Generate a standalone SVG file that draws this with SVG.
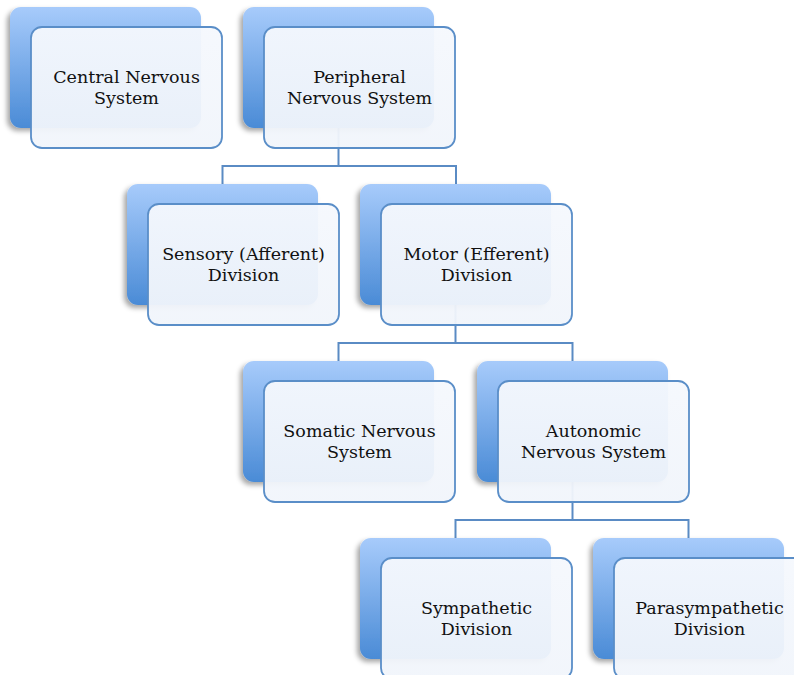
<svg xmlns="http://www.w3.org/2000/svg" width="794" height="675" viewBox="0 0 794 675">
  <defs>
    <linearGradient id="backGrad" x1="0" y1="0" x2="0" y2="1">
      <stop offset="0" stop-color="#A7CBFB"/>
      <stop offset="1" stop-color="#4A8BD6"/>
    </linearGradient>
    <linearGradient id="frontGrad" x1="0" y1="0" x2="0" y2="1">
      <stop offset="0" stop-color="#F5F8FD"/>
      <stop offset="1" stop-color="#F1F5FB"/>
    </linearGradient>
    <filter id="shadow" x="-10%" y="-10%" width="120%" height="125%">
      <feDropShadow dx="-3" dy="3" stdDeviation="2.5" flood-color="#000" flood-opacity="0.35"/>
    </filter>
  </defs>
  <style>
    .back { fill: url(#backGrad); filter: url(#shadow); }
    .front { fill: url(#frontGrad); fill-opacity: 0.95; stroke: #5A8EC8; stroke-width: 1.8; }
    .conn { fill: none; stroke: #5A8BC4; stroke-width: 2; }
    text { font-family: "DejaVu Serif", "Liberation Serif", serif; font-size: 17.5px; fill: #111; text-anchor: middle; }
  </style>
  <rect width="794" height="675" fill="#ffffff"/>

  <g id="connectors">
    <path class="conn" d="M338.5 128 V166"/>
    <path class="conn" d="M222.5 184 V166 H456 V184"/>
    <path class="conn" d="M455.5 305 V343"/>
    <path class="conn" d="M338.5 361 V343 H572.5 V361"/>
    <path class="conn" d="M572.5 482 V520"/>
    <path class="conn" d="M455.5 538 V520 H688.5 V538"/>
  </g>

  <g id="cns">
    <rect class="back" x="10" y="7" width="191" height="121" rx="11"/>
    <rect class="front" x="31" y="27" width="191" height="121" rx="11"/>
    <text x="126.5" y="83">Central Nervous<tspan x="126.5" dy="21">System</tspan></text>
  </g>

  <g id="pns">
    <rect class="back" x="243" y="7" width="191" height="121" rx="11"/>
    <rect class="front" x="264" y="27" width="191" height="121" rx="11"/>
    <text x="359.5" y="83">Peripheral<tspan x="359.5" dy="21">Nervous System</tspan></text>
  </g>

  <g id="sensory">
    <rect class="back" x="127" y="184" width="191" height="121" rx="11"/>
    <rect class="front" x="148" y="204" width="191" height="121" rx="11"/>
    <text x="243.5" y="260">Sensory (Afferent)<tspan x="243.5" dy="21">Division</tspan></text>
  </g>

  <g id="motor">
    <rect class="back" x="360" y="184" width="191" height="121" rx="11"/>
    <rect class="front" x="381" y="204" width="191" height="121" rx="11"/>
    <text x="476.5" y="260">Motor (Efferent)<tspan x="476.5" dy="21">Division</tspan></text>
  </g>

  <g id="somatic">
    <rect class="back" x="243" y="361" width="191" height="121" rx="11"/>
    <rect class="front" x="264" y="381" width="191" height="121" rx="11"/>
    <text x="359.5" y="437">Somatic Nervous<tspan x="359.5" dy="21">System</tspan></text>
  </g>

  <g id="autonomic">
    <rect class="back" x="477" y="361" width="191" height="121" rx="11"/>
    <rect class="front" x="498" y="381" width="191" height="121" rx="11"/>
    <text x="593.5" y="437">Autonomic<tspan x="593.5" dy="21">Nervous System</tspan></text>
  </g>

  <g id="sympathetic">
    <rect class="back" x="360" y="538" width="191" height="121" rx="11"/>
    <rect class="front" x="381" y="558" width="191" height="121" rx="11"/>
    <text x="476.5" y="614">Sympathetic<tspan x="476.5" dy="21">Division</tspan></text>
  </g>

  <g id="parasympathetic">
    <rect class="back" x="593" y="538" width="191" height="121" rx="11"/>
    <rect class="front" x="614" y="558" width="191" height="121" rx="11"/>
    <text x="709.5" y="614">Parasympathetic<tspan x="709.5" dy="21">Division</tspan></text>
  </g>
</svg>
